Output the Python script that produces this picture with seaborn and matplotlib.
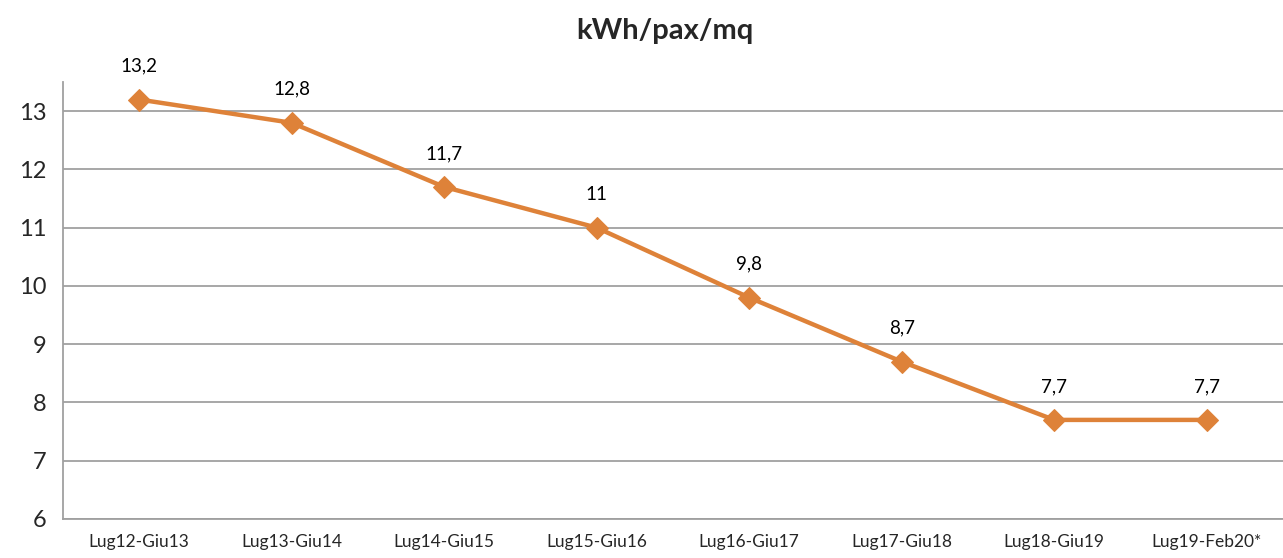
import matplotlib
matplotlib.use("Agg")
import matplotlib.pyplot as plt
import seaborn as sns
import numpy as np
import pandas as pd

periods = ["Lug12-Giu13", "Lug13-Giu14", "Lug14-Giu15", "Lug15-Giu16",
           "Lug16-Giu17", "Lug17-Giu18", "Lug18-Giu19", "Lug19-Feb20*"]
values = [13.2, 12.8, 11.7, 11.0, 9.8, 8.7, 7.7, 7.7]
labels = ["13,2", "12,8", "11,7", "11", "9,8", "8,7", "7,7", "7,7"]

sns.set_theme(style="white")
plt.rcParams['font.family'] = ['Lato', 'DejaVu Sans']

df = pd.DataFrame({"periodo": periods, "valore": values})
df["pos"] = np.arange(len(periods))

fig = plt.figure(figsize=(12.83, 5.58), dpi=100)
ax = fig.add_axes([0.049, 0.070, 0.951, 0.783])

orange = "#DE8239"
grid_c = "#A0A0A0"

sns.lineplot(data=df, x="pos", y="valore", ax=ax, color=orange, linewidth=3.2,
             marker="D", markersize=11, markeredgecolor=orange, zorder=3)

for x, y, t in zip(df["pos"], df["valore"], labels):
    ax.annotate(t, (x, y), xytext=(0, 18), textcoords="offset points",
                ha="center", va="bottom", fontsize=13.5, color="black")

ax.set_xlim(-0.5, len(periods) - 0.5)
ax.set_ylim(6, 13.5)
ax.set_yticks(range(6, 14))
ax.set_yticklabels([str(v) for v in range(6, 14)], fontsize=17)
ax.set_xticks(df["pos"])
ax.set_xticklabels(periods, fontsize=12.5)
ax.set_xticks(np.arange(-0.5, len(periods)), minor=True)
ax.tick_params(axis="x", which="major", length=0, pad=11)
ax.tick_params(axis="x", which="minor", length=6, width=1.2, color=grid_c, direction="out")
ax.tick_params(axis="y", length=6, width=1.2, color=grid_c, direction="out", pad=6)

ax.yaxis.grid(True, color=grid_c, linewidth=1.3)
ax.set_axisbelow(True)
for s in ["top", "right"]:
    ax.spines[s].set_visible(False)
for s in ["left", "bottom"]:
    ax.spines[s].set_color(grid_c)
    ax.spines[s].set_linewidth(1.3)

ax.set_xlabel("")
ax.set_ylabel("")
fig.suptitle("kWh/pax/mq", fontsize=21, fontweight="bold", x=0.518, y=0.968)

plt.savefig("out.png", dpi=100)
plt.close()
